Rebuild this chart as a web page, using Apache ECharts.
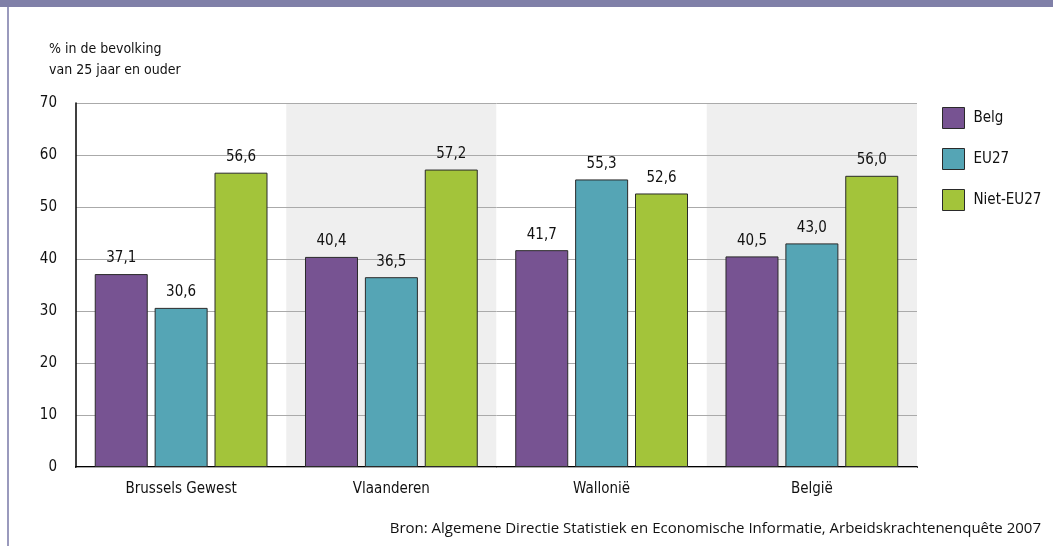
<!DOCTYPE html>
<html>
<head>
<meta charset="utf-8">
<script src="https://cdn.jsdelivr.net/npm/echarts@6/dist/echarts.min.js"></script>
<style>
  html, body { margin: 0; padding: 0; background: #fff; }
  #chart { width: 1053px; height: 546px; }
</style>
</head>
<body>
<div id="chart"></div>
<script>
var regions = ['Brussels Gewest', 'Vlaanderen', 'Wallonië', 'België'];
var belg = [37.1, 40.4, 41.7, 40.5];
var eu27 = [30.6, 36.5, 55.3, 43.0];
var nietEu27 = [56.6, 57.2, 52.6, 56.0];

var narrow = "'Liberation Sans Narrow', 'DejaVu Sans Condensed', sans-serif";

function labelFmt(p) {
    return p.value.toFixed(1).replace('.', ',');
}

function barSeries(name, data, color) {
    return {
        name: name,
        type: 'bar',
        data: data,
        barWidth: 53,
        barGap: '13%',
        z: 3,
        itemStyle: { color: color, borderColor: '#2a2a2a', borderWidth: 1 },
        label: {
            show: true,
            position: 'top',
            distance: 8,
            formatter: labelFmt,
            fontFamily: narrow,
            fontSize: 15,
            color: '#111'
        }
    };
}

var chart = echarts.init(document.getElementById('chart'));
chart.setOption({
    animation: false,
    textStyle: { fontFamily: narrow },
    title: {
        text: '% in de bevolking\nvan 25 jaar en ouder',
        left: 44,
        top: 34,
        textStyle: { fontFamily: narrow, fontSize: 14, fontWeight: 'normal', color: '#111', lineHeight: 21 }
    },
    grid: { left: 76, right: 136, top: 103, bottom: 79 },
    legend: {
        orient: 'vertical',
        left: 937,
        top: 102,
        icon: 'rect',
        itemWidth: 22,
        itemHeight: 21,
        itemGap: 19,
        itemStyle: { borderColor: '#2a2a2a', borderWidth: 1 },
        textStyle: { fontFamily: narrow, fontSize: 15, color: '#111', padding: [0, 0, 0, 4] },
        data: ['Belg', 'EU27', 'Niet-EU27']
    },
    xAxis: {
        type: 'category',
        data: regions,
        z: 0,
        axisLine: { lineStyle: { color: '#000', width: 2 } },
        axisTick: { show: false },
        axisLabel: { fontFamily: narrow, fontSize: 15, color: '#111', margin: 15 },
        splitArea: { show: true, areaStyle: { color: ['#ffffff', '#efefef'] } }
    },
    yAxis: {
        type: 'value',
        min: 0,
        max: 70,
        interval: 10,
        z: 1,
        axisLine: { show: true, lineStyle: { color: '#000', width: 1.5 } },
        axisTick: { show: false },
        axisLabel: { fontFamily: narrow, fontSize: 15, color: '#111', margin: 19 },
        splitLine: { lineStyle: { color: '#aaaaaa', width: 1 } }
    },
    graphic: [
        { type: 'rect', left: 0, top: 0, shape: { width: 1053, height: 7 }, style: { fill: '#8080a8' } },
        { type: 'rect', left: 7, top: 7, shape: { width: 2, height: 539 }, style: { fill: '#9a9abd' } },
        {
            type: 'text', right: 12, top: 521,
            style: {
                text: 'Bron: Algemene Directie Statistiek en Economische Informatie, Arbeidskrachtenenquête 2007',
                fontFamily: "'Open Sans', sans-serif", fontSize: 15, fill: '#111'
            }
        }
    ],
    series: [
        barSeries('Belg', belg, '#775392'),
        barSeries('EU27', eu27, '#55a5b5'),
        barSeries('Niet-EU27', nietEu27, '#a3c43a')
    ]
});
</script>
</body>
</html>
